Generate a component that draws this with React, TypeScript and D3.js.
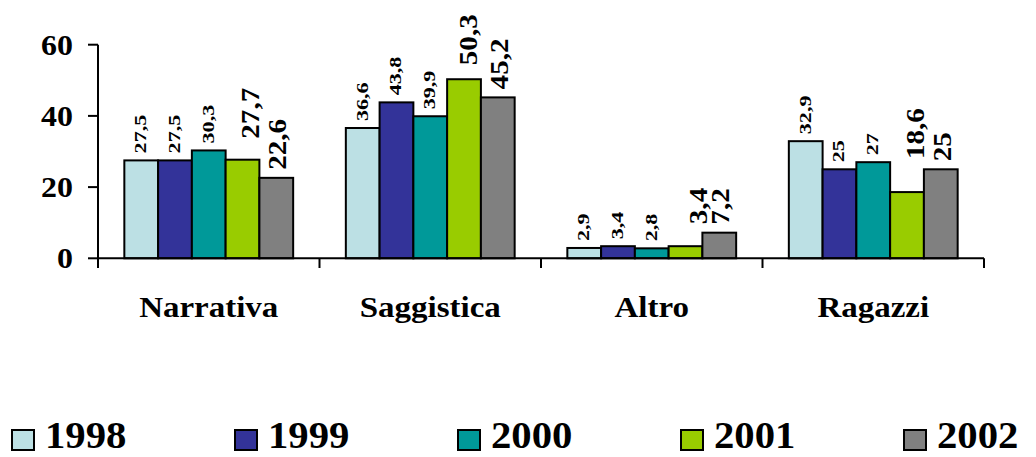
import React from "react";
import * as d3 from "d3";

const categories = ["Narrativa", "Saggistica", "Altro", "Ragazzi"];
const seriesNames = ["1998", "1999", "2000", "2001", "2002"];
const v1998 = [27.5, 36.6, 2.9, 32.9];
const v1999 = [27.5, 43.8, 3.4, 25];
const v2000 = [30.3, 39.9, 2.8, 27];
const v2001 = [27.7, 50.3, 3.4, 18.6];
const v2002 = [22.6, 45.2, 7.2, 25];
const yTicks = [0, 20, 40, 60];

const seriesValues = [v1998, v1999, v2000, v2001, v2002];
const colors = ["#BCE0E4", "#333399", "#009999", "#99CC00", "#808080"];

// label placement tweaks (styling, not data): [dx, gap] for 2001 labels by category
const nudge2001 = [
  [10, 21],
  [6, 14],
  [15, 22],
  [10, 33],
];

const W = 1036;
const H = 457;
const FONT = "Times New Roman, Liberation Serif, Tinos, serif";

export default function App() {
  const x0 = d3.scaleBand<string>().domain(categories).range([98, 984]).paddingInner(0).paddingOuter(0);
  const x1 = d3
    .scaleBand<string>()
    .domain(seriesNames)
    .range([0, x0.bandwidth()])
    .paddingInner(0)
    .paddingOuter(0.78);
  const y = d3.scaleLinear().domain([0, 60]).range([258.3, 44.7]);

  const tStyle = { fontFamily: FONT, fontWeight: 700 as const };

  const bars: React.ReactNode[] = [];
  const labels: React.ReactNode[] = [];
  categories.forEach((cat, ci) => {
    seriesNames.forEach((s, si) => {
      const v = seriesValues[si][ci];
      const bx = (x0(cat) as number) + (x1(s) as number);
      const bw = x1.bandwidth();
      const top = y(v);
      bars.push(
        <rect
          key={`b-${ci}-${si}`}
          x={bx}
          y={top}
          width={bw}
          height={y(0) - top}
          fill={colors[si]}
          stroke="#000"
          strokeWidth={2}
        />
      );
      const big = si >= 3;
      const fs = big ? 26 : 17;
      const sx = big ? 1.12 : 1.3;
      let dx = 0.5;
      let gap = 7;
      if (si === 3) {
        dx = nudge2001[ci][0];
        gap = nudge2001[ci][1];
      } else if (si === 4) {
        dx = 3;
        gap = 8;
      }
      const baseX = bx + bw / 2 + dx + 0.26 * fs;
      const startY = top - gap;
      labels.push(
        <text
          key={`l-${ci}-${si}`}
          transform={`translate(${baseX},${startY}) rotate(-90) scale(${sx},1)`}
          style={{ ...tStyle, fontSize: fs }}
          fill="#000"
          textAnchor="start"
        >
          {String(v).replace(".", ",")}
        </text>
      );
    });
  });

  const boundaries = [...categories.map((c) => x0(c) as number), 984];

  return (
    <svg
      width={W}
      height={H}
      style={{ position: "absolute", left: 0, top: 0, background: "#fff" }}
    >
      <rect x={0} y={0} width={W} height={H} fill="#fff" />
      {/* y axis */}
      <line x1={98} x2={98} y1={y(60)} y2={268} stroke="#000" strokeWidth={2} />
      {yTicks.map((t) => (
        <g key={`yt-${t}`}>
          <line x1={88} x2={98} y1={y(t)} y2={y(t)} stroke="#000" strokeWidth={2} />
          <text
            transform={`translate(73,${y(t)}) scale(1.1,1)`}
            dy="0.35em"
            textAnchor="end"
            style={{ ...tStyle, fontSize: 29 }}
            fill="#000"
          >
            {t}
          </text>
        </g>
      ))}
      {bars}
      {/* x axis */}
      <line x1={98} x2={984} y1={y(0)} y2={y(0)} stroke="#000" strokeWidth={2} />
      {boundaries.map((b, i) => (
        <line key={`xt-${i}`} x1={b} x2={b} y1={y(0)} y2={268} stroke="#000" strokeWidth={2} />
      ))}
      {categories.map((c) => (
        <text
          key={`c-${c}`}
          transform={`translate(${(x0(c) as number) + x0.bandwidth() / 2},317) scale(1.1,1)`}
          textAnchor="middle"
          style={{ ...tStyle, fontSize: 30 }}
          fill="#000"
        >
          {c}
        </text>
      ))}
      {labels}
      {/* legend */}
      {seriesNames.map((s, i) => {
        const lx = 12 + i * 223;
        return (
          <g key={`lg-${s}`}>
            <rect x={lx} y={430} width={22} height={20} fill={colors[i]} stroke="#000" strokeWidth={2} />
            <text
              transform={`translate(${lx + 33},448) scale(1.1,1)`}
              style={{ ...tStyle, fontSize: 37 }}
              fill="#000"
            >
              {s}
            </text>
          </g>
        );
      })}
    </svg>
  );
}
